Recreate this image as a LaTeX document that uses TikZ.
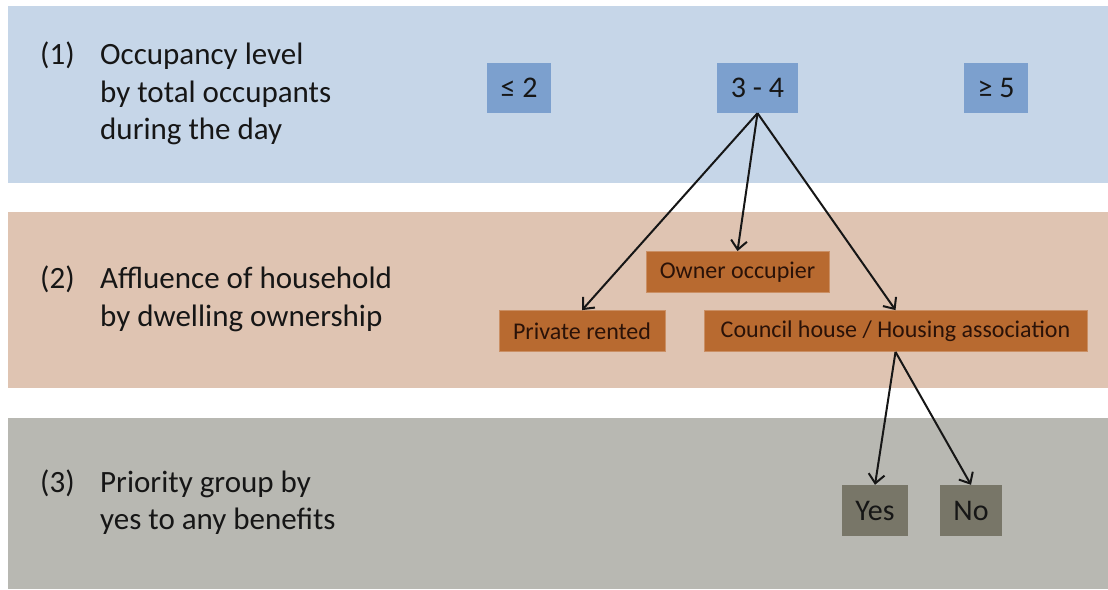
\documentclass[tikz,border=0pt]{standalone}
\usepackage{fontspec}
\setmainfont{Carlito}
\usetikzlibrary{arrows.meta}

\definecolor{bandblue}{HTML}{C6D6E8}
\definecolor{bandtan}{HTML}{DFC4B2}
\definecolor{bandgrey}{HTML}{B8B8B2}
\definecolor{boxblue}{HTML}{7CA0CE}
\definecolor{boxbrown}{HTML}{B86A30}
\definecolor{boxgrey}{HTML}{787668}
\definecolor{inkblack}{HTML}{161616}
\definecolor{inkbrown}{HTML}{2A1208}

\tikzset{
  level/.style={anchor=west, inner sep=0pt, text=inkblack,
    font=\fontsize{31}{37.5}\selectfont},
  topbox/.style={fill=boxblue, inner sep=0pt, minimum height=50pt,
    text=inkblack, font=\fontsize{30}{36}\selectfont},
  ownbox/.style={fill=boxbrown, draw=boxbrown!75!white, line width=0.8pt,
    inner sep=0pt, minimum height=41pt, text=inkbrown,
    font=\fontsize{24}{29}\selectfont},
  ansbox/.style={fill=boxgrey, inner sep=0pt, minimum height=51pt,
    text=inkblack, font=\fontsize{30}{36}\selectfont},
  arr/.style={line width=2pt, draw=inkblack,
    -{Straight Barb[length=9pt,width=16pt,line width=2pt]}}
}

\begin{document}
\begin{tikzpicture}[x=1pt, y=-1pt]
  \useasboundingbox (0,0) rectangle (1108,589);

  % the three bands
  \fill[bandblue] (8,6) rectangle (1108,183);
  \fill[bandtan] (8,212) rectangle (1108,388);
  \fill[bandgrey] (8,418) rectangle (1108,589);

  \node[level] (lev1) at (40,94.5) {\begin{tabular}{@{}p{60pt}@{}l@{}}
      (1) & Occupancy level\\ & by total occupants\\ & during the day\end{tabular}};
  \node[level] (lev2) at (40,300) {\begin{tabular}{@{}p{60pt}@{}l@{}}
      (2) & Affluence of household\\ & by dwelling ownership\end{tabular}};
  \node[level] (lev3) at (40,503.5) {\begin{tabular}{@{}p{60pt}@{}l@{}}
      (3) & Priority group by\\ & yes to any benefits\end{tabular}};

  % occupancy
  \node[topbox, minimum width=64pt] (low) at (519,88) {≤ 2};
  \node[topbox, minimum width=81pt] (mid) at (757.5,88) {3 - 4};
  \node[topbox, minimum width=64pt] (high) at (996,88) {≥ 5};

  % ownership
  \node[ownbox, minimum width=183pt] (owner) at (737.5,272) {Owner occupier};
  \node[ownbox, minimum width=166pt] (private) at (582,331) {Private rented};
  \node[ownbox, minimum width=383pt] (council) at (895.5,331) {Council house / Housing association};

  % benefits
  \node[ansbox, minimum width=66pt] (yes) at (875,510.5) {Yes};
  \node[ansbox, minimum width=62pt] (no) at (971,510.5) {No};

  \draw[arr] (mid.south) -- (private.north);
  \draw[arr] (mid.south) -- (owner.north);
  \draw[arr] (mid.south) -- (council.north);
  \draw[arr] (council.south) -- (yes.north);
  \draw[arr] (council.south) -- (no.north);
\end{tikzpicture}
\end{document}
